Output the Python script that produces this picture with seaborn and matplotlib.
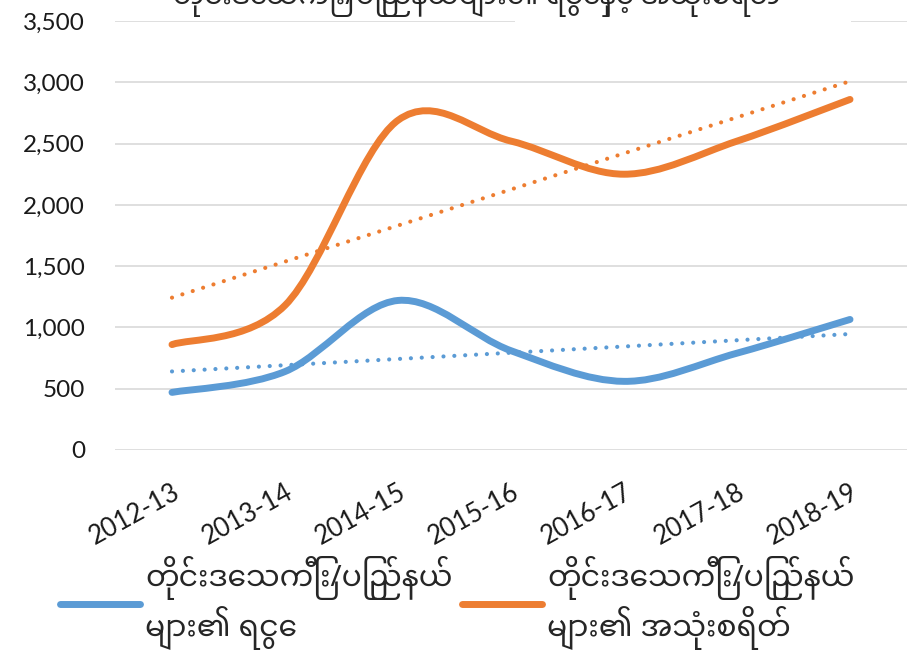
import numpy as np
import matplotlib
matplotlib.use("Agg")
import matplotlib.pyplot as plt
import seaborn as sns
from matplotlib.path import Path
from matplotlib.patches import PathPatch, Rectangle
from matplotlib.lines import Line2D
from matplotlib.ticker import FuncFormatter

# data
years = ["2012-13", "2013-14", "2014-15", "2015-16", "2016-17", "2017-18", "2018-19"]
revenue = [470, 640, 1220, 810, 560, 790, 1065]
expenditure = [860, 1180, 2690, 2520, 2250, 2520, 2860]
labels = ["တိုင်းဒေသကြီး/ပြည်နယ်\nများ၏ ရငွေ",
          "တိုင်းဒေသကြီး/ပြည်နယ်\nများ၏ အသုံးစရိတ်"]
title = "တိုင်းဒေသကြီး/ပြည်နယ်များ၏ ရငွေနှင့် အသုံးစရိတ်"

blue = "#5B9BD5"
orange = "#ED7D31"

sns.set_theme(style="white")
plt.rcParams["font.family"] = ["Lato", "Noto Sans Myanmar", "Padauk", "Myanmar Text", "DejaVu Sans"]
mm_font = ["Noto Sans Myanmar", "Padauk", "Myanmar Text", "Noto Sans", "DejaVu Sans"]


def smooth_path(xs, ys):
    """Excel-like smoothed line: cubic Bezier segments through the points."""
    pts = np.column_stack([xs, ys]).astype(float)
    n = len(pts)
    verts = [pts[0]]
    codes = [Path.MOVETO]
    for i in range(n - 1):
        p0 = pts[max(i - 1, 0)]
        p1 = pts[i]
        p2 = pts[i + 1]
        p3 = pts[min(i + 2, n - 1)]
        c1 = p1 + (p2 - p0) / 6
        c2 = p2 - (p3 - p1) / 6
        verts += [c1, c2, p2]
        codes += [Path.CURVE4] * 3
    return Path(verts, codes)


fig = plt.figure(figsize=(9.13, 6.5), dpi=100)
ax = fig.add_axes([0.1265, 0.3077, 0.8664, 0.66])

pos = np.arange(len(years))

# linear trend lines (dotted)
for vals, col in [(revenue, blue), (expenditure, orange)]:
    sns.regplot(x=pos, y=np.array(vals), scatter=False, ci=None, ax=ax,
                line_kws=dict(color=col, lw=3, ls=(0, (0.01, 2.6)),
                              dash_capstyle="round", zorder=2))

# smoothed series
for vals, col in [(revenue, blue), (expenditure, orange)]:
    ax.add_patch(PathPatch(smooth_path(pos, vals), fill=False, edgecolor=col,
                           lw=5, capstyle="round", joinstyle="round", zorder=3))

ax.set_xlim(-0.5, len(years) - 0.5)
ax.set_ylim(0, 3500)
ax.set_yticks(np.arange(0, 3501, 500))
ax.yaxis.set_major_formatter(FuncFormatter(lambda v, p: f"{int(v):,}"))
ax.set_xticks(pos)
ax.set_xticklabels(years, rotation=29, ha="right", rotation_mode="anchor")
ax.grid(axis="y", color="#D9D9D9", lw=1.2)
ax.set_axisbelow(True)
for s in ax.spines.values():
    s.set_visible(False)
ax.tick_params(axis="y", length=0, pad=22, labelsize=17.5, labelcolor="#1a1a1a")
ax.tick_params(axis="x", length=0, pad=21, labelsize=18.5, labelcolor="#1a1a1a")
ax.set_xlabel("")
ax.set_ylabel("")

# title box at the top, cut off by the picture edge as in the source
fig.patches.append(Rectangle((0.564, 0.955), 0.368, 0.06, transform=fig.transFigure,
                             facecolor="white", edgecolor="none", zorder=5))
fig.text(0.19, 1.005, title, fontsize=20, style="italic", family=mm_font,
         ha="left", va="center", zorder=6)

handles = [Line2D([], [], color=blue, lw=5, solid_capstyle="round"),
           Line2D([], [], color=orange, lw=5, solid_capstyle="round")]
fig.legend(handles, labels, loc="center left", bbox_to_anchor=(0.036, 0.072),
           ncol=2, frameon=False, prop=dict(family=mm_font, size=21.5),
           handlelength=2.7, handletextpad=0.17, columnspacing=0.3)

fig.savefig("out.png", dpi=100)
